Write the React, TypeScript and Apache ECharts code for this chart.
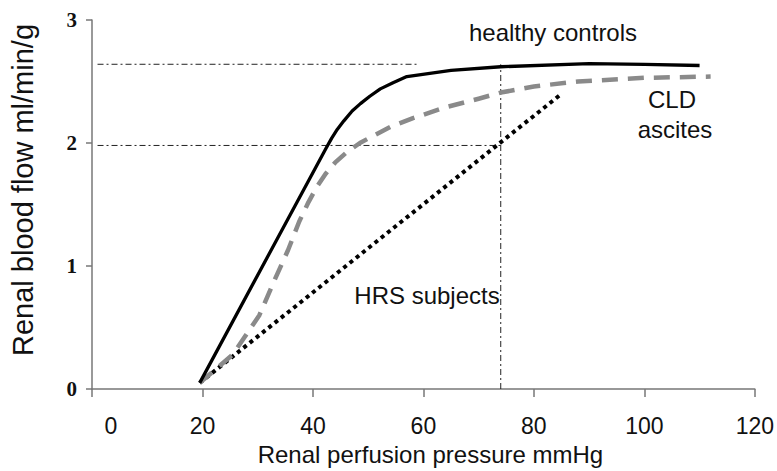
import React, { useEffect, useRef } from "react";
import * as echarts from "echarts";

const xTicks = [0, 20, 40, 60, 80, 100, 120];
const yTicks = [0, 1, 2, 3];

const healthyX = [19.5, 42.4, 43.4, 44.4, 45.6, 47.1, 48.6, 50.3, 52.2, 54.5, 57, 65, 74, 90, 100, 110];
const healthyY = [0.05, 1.96, 2.04, 2.11, 2.18, 2.26, 2.32, 2.38, 2.44, 2.49, 2.54, 2.59, 2.62, 2.645, 2.64, 2.63];

const cldX = [19.5, 25.5, 30.3, 33, 35.5, 37.5, 39.2, 40.8, 42.3, 44, 46, 48.5, 51, 54, 58, 64, 70, 74, 80, 88, 100, 112];
const cldY = [0.05, 0.28, 0.6, 0.88, 1.13, 1.36, 1.52, 1.65, 1.75, 1.84, 1.92, 2.0, 2.06, 2.13, 2.2, 2.29, 2.36, 2.41, 2.46, 2.5, 2.53, 2.54];

const hrsX = [19.5, 85];
const hrsY = [0.05, 2.4];

const refTopX = [1, 59];
const refTopY = [2.64, 2.64];
const refMidX = [1, 74];
const refMidY = [1.98, 1.98];
const refVertX = [74, 74];
const refVertY = [0, 2.64];

const zip = (xs: number[], ys: number[]) => xs.map((x, i) => [x, ys[i]]);

const SANS = "'Liberation Sans', Arial, sans-serif";
const SERIF = "'Liberation Serif', 'Times New Roman', serif";
const DASHDOT = [6, 3, 2, 3];

export default function App() {
  const ref = useRef<HTMLDivElement>(null);
  useEffect(() => {
    document.body.style.margin = "0";
    const chart = echarts.init(ref.current!, null, { renderer: "svg" });
    const refLine = (name: string, data: number[][]) => ({
      name,
      type: "line",
      data,
      symbol: "none",
      silent: true,
      lineStyle: { color: "#222", width: 1, type: DASHDOT },
      z: 1,
    });
    chart.setOption({
      animation: false,
      backgroundColor: "#fff",
      grid: { left: 92, right: 20, top: 20, bottom: 76, containLabel: false },
      xAxis: {
        type: "value",
        min: 0,
        max: 120,
        interval: 20,
        name: "Renal perfusion pressure mmHg",
        nameLocation: "middle",
        nameGap: 53,
        nameTextStyle: { fontFamily: SANS, fontSize: 24, color: "#111", padding: [0, 0, 0, 14] },
        axisLine: { lineStyle: { color: "#777", width: 1.5 } },
        axisTick: { show: true, length: 8, lineStyle: { color: "#777", width: 1.5 } },
        axisLabel: {
          margin: 25,
          fontFamily: SANS,
          fontSize: 23,
          color: "#111",
          formatter: (v: number) => (v === 0 ? "{z|0}" : String(v)),
          rich: { z: { padding: [0, 0, 0, 38], fontFamily: SANS, fontSize: 23, color: "#111" } },
        },
        splitLine: { show: false },
      },
      yAxis: {
        type: "value",
        min: 0,
        max: 3,
        interval: 1,
        axisLine: { show: true, lineStyle: { color: "#777", width: 1.5 } },
        axisTick: { show: true, length: 6, lineStyle: { color: "#777", width: 1.5 } },
        axisLabel: {
          margin: 15,
          fontFamily: SERIF,
          fontSize: 21,
          fontWeight: "bold",
          color: "#111",
        },
        splitLine: { show: false },
      },
      series: [
        refLine("ref-top", zip(refTopX, refTopY)),
        refLine("ref-mid", zip(refMidX, refMidY)),
        refLine("ref-vert", zip(refVertX, refVertY)),
        {
          name: "HRS subjects",
          type: "line",
          data: zip(hrsX, hrsY),
          symbol: "none",
          lineStyle: { color: "#000", width: 4, type: [4, 4], cap: "butt" },
          z: 2,
        },
        {
          name: "CLD ascites",
          type: "line",
          data: zip(cldX, cldY),
          symbol: "none",
          smooth: false,
          lineStyle: { color: "#8a8a8a", width: 4.5, type: [16, 10], cap: "butt", join: "round" },
          z: 3,
        },
        {
          name: "healthy controls",
          type: "line",
          data: zip(healthyX, healthyY),
          symbol: "none",
          smooth: false,
          lineStyle: { color: "#000", width: 3.3, join: "round" },
          z: 4,
        },
      ],
      graphic: [
        {
          type: "text",
          x: 23,
          y: 190,
          rotation: Math.PI / 2,
          style: {
            text: "Renal blood flow ml/min/g",
            fontFamily: SANS,
            fontSize: 29,
            fill: "#111",
            align: "center",
            verticalAlign: "middle",
          },
        },
        {
          type: "text",
          x: 553,
          y: 32,
          style: { text: "healthy controls", fontFamily: SANS, fontSize: 24, fill: "#111", align: "center", verticalAlign: "middle" },
        },
        {
          type: "text",
          x: 672,
          y: 99,
          style: { text: "CLD", fontFamily: SANS, fontSize: 24, fill: "#111", align: "center", verticalAlign: "middle" },
        },
        {
          type: "text",
          x: 675,
          y: 129,
          style: { text: "ascites", fontFamily: SANS, fontSize: 24, fill: "#111", align: "center", verticalAlign: "middle" },
        },
        {
          type: "text",
          x: 427,
          y: 295,
          style: { text: "HRS subjects", fontFamily: SANS, fontSize: 24, fill: "#111", align: "center", verticalAlign: "middle" },
        },
      ],
    });
    return () => chart.dispose();
  }, []);
  return <div ref={ref} style={{ width: 777, height: 471 }} />;
}
